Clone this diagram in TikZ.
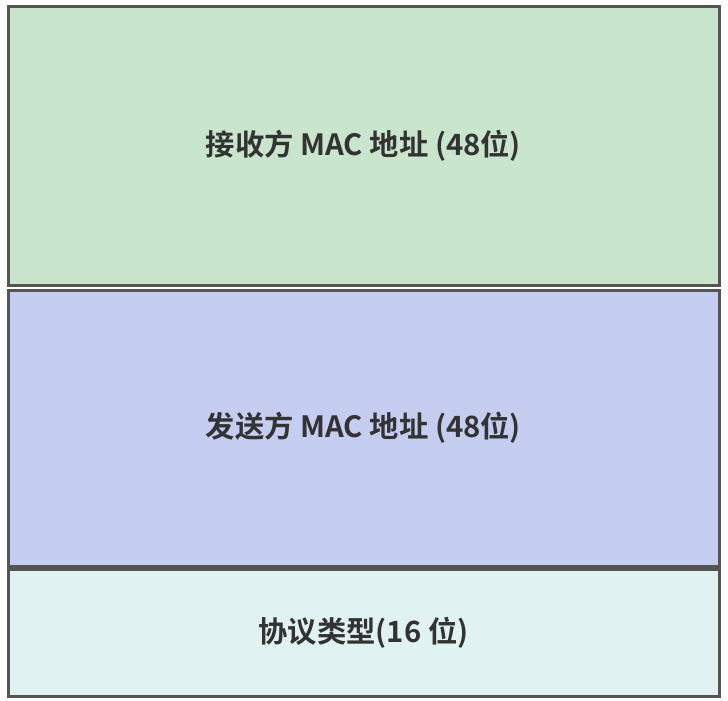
\documentclass[tikz,border=0pt]{standalone}
\usepackage{fontspec}
\newfontfamily\cjk{Noto Sans CJK SC}[BoldFont={Noto Sans CJK SC Bold}]
\definecolor{dstgreen}{HTML}{C9E6CD}
\definecolor{srcblue}{HTML}{C5CDF1}
\definecolor{typecyan}{HTML}{E0F2F1}
\definecolor{edgegray}{HTML}{555555}
\definecolor{textgray}{HTML}{333333}

\begin{document}
\begin{tikzpicture}[x=1pt,y=-1pt]
  \tikzset{field/.style={draw=edgegray, line width=3pt, anchor=north west, minimum width=711pt,
      inner sep=0pt, text=textgray, font=\cjk\bfseries\fontsize{29.3}{34}\selectfont}}
  \useasboundingbox (0,0) rectangle (728,701);
  \node[field, fill=dstgreen, minimum height=278pt] (dst) at (6.5,5.5) {接收方 MAC 地址 (48位)};
  \node[field, fill=srcblue, minimum height=276pt] (src) at (6.5,288.5) {发送方 MAC 地址 (48位)};
  \node[field, fill=typecyan, minimum height=126.5pt] (type) at (6.5,568) {协议类型(16 位)};
\end{tikzpicture}
\end{document}
